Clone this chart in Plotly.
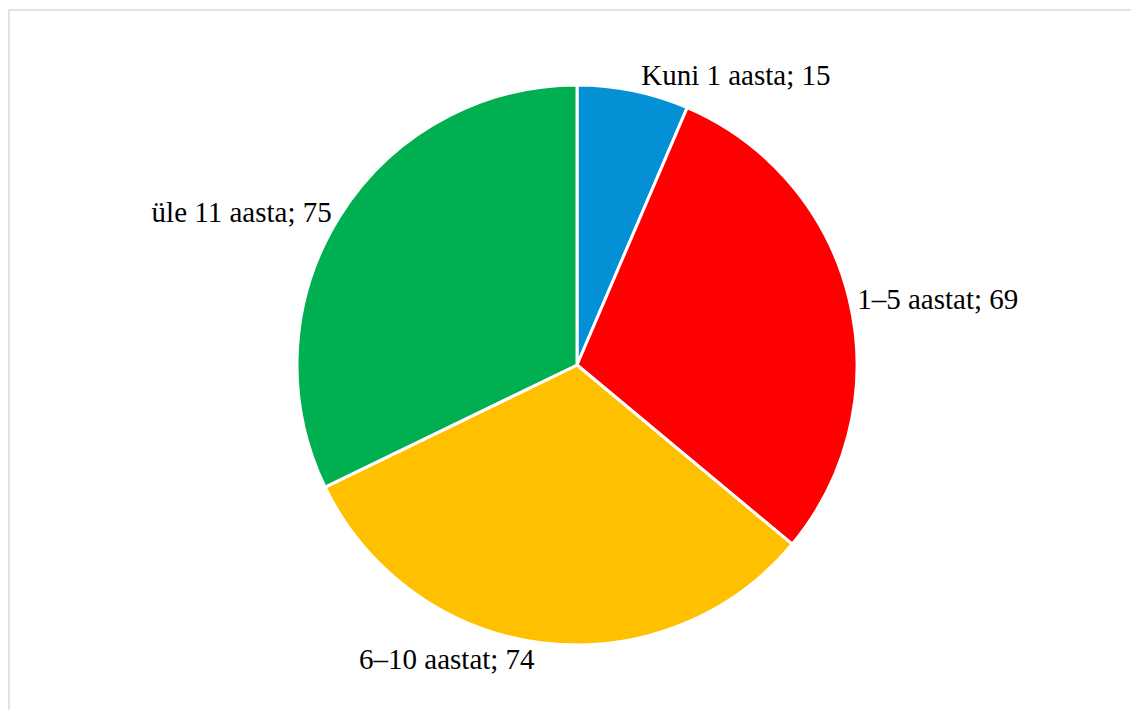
import plotly.graph_objects as go

categories = ["Kuni 1 aasta", "1–5 aastat", "6–10 aastat", "üle 11 aasta"]
values = [15, 69, 74, 75]
colors = ["#0390D5", "#FF0000", "#FFC000", "#00B050"]

labels_text = [f"{c}; {v}" for c, v in zip(categories, values)]

W, H = 1139, 710
cx, cy, r = 569, 357, 280
FONT = "Times New Roman, Liberation Serif, DejaVu Serif, serif"

fig = go.Figure(go.Pie(
    labels=categories,
    values=values,
    text=labels_text,
    textinfo="text",
    textposition="outside",
    sort=False,
    direction="clockwise",
    rotation=0,
    marker=dict(colors=colors, line=dict(color="white", width=3)),
    textfont=dict(family=FONT, size=29, color="black"),
    outsidetextfont=dict(family=FONT, size=29, color="black"),
    domain=dict(x=[(cx - r) / W, (cx + r) / W], y=[(H - cy - r) / H, (H - cy + r) / H]),
    showlegend=False,
    hoverinfo="label+value",
))

fig.update_layout(
    width=W, height=H,
    margin=dict(l=0, r=0, t=0, b=0),
    paper_bgcolor="white",
    plot_bgcolor="white",
    font=dict(family=FONT),
    shapes=[dict(type="rect", xref="paper", yref="paper",
                 x0=1 / W, x1=1130 / W, y0=-2 / H, y1=1 - 2 / H,
                 line=dict(color="#D9D9D9", width=1.5))],
)

fig.write_html("out.html")
